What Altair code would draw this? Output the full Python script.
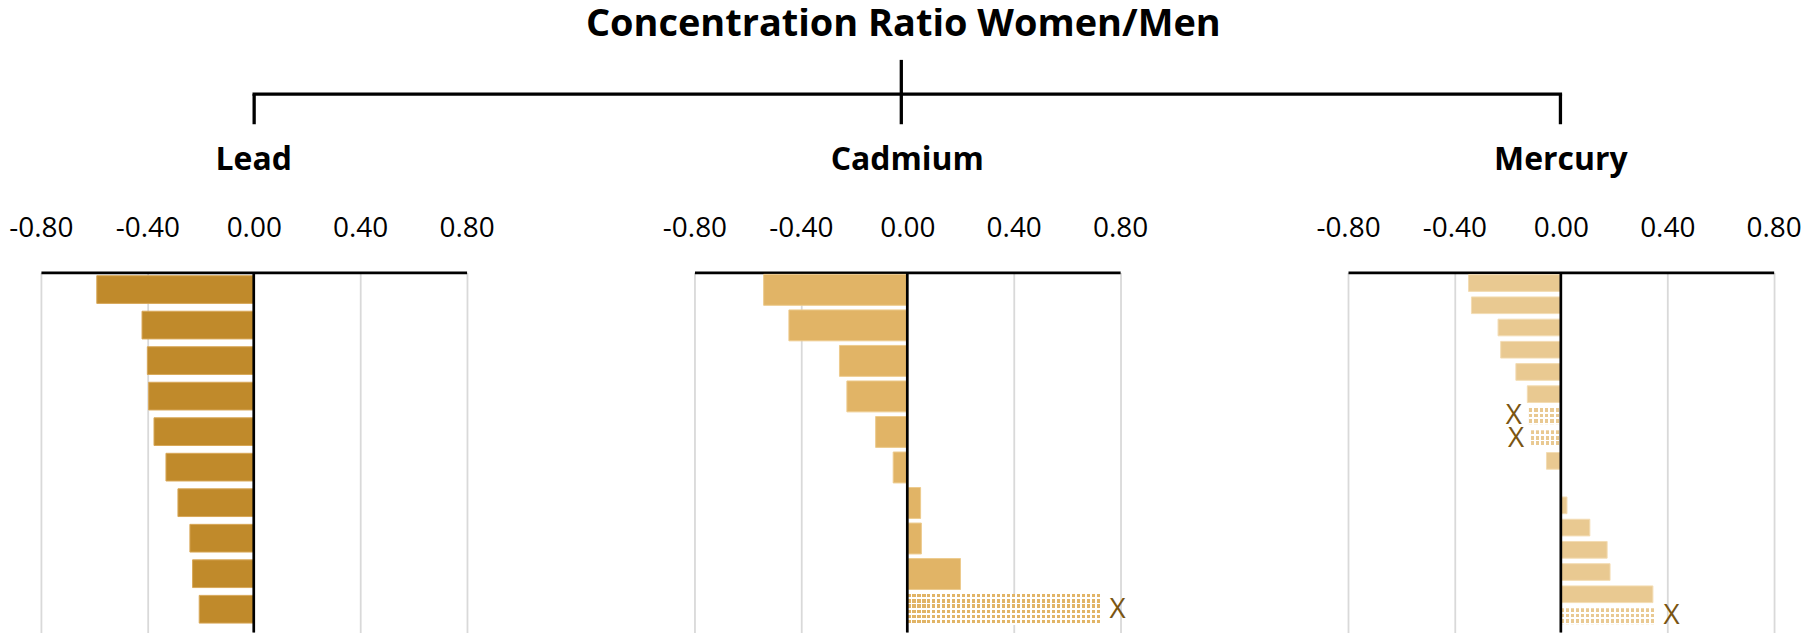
import altair as alt
import pandas as pd

# ---------------- data ----------------
main_title = "Concentration Ratio Women/Men"
panel_names = ["Lead", "Cadmium", "Mercury"]

lead_vals = [-0.59, -0.42, -0.40, -0.395, -0.375, -0.33, -0.285, -0.24, -0.23, -0.205]
lead_flag = [False] * 10

cad_vals = [-0.54, -0.445, -0.255, -0.227, -0.119, -0.053, 0.05, 0.053, 0.20, 0.73]
cad_flag = [False] * 9 + [True]

mer_vals = [-0.347, -0.336, -0.236, -0.226, -0.169, -0.126, -0.12, -0.112, -0.054,
            0.0, 0.023, 0.109, 0.174, 0.185, 0.346, 0.356]
mer_flag = [False] * 6 + [True, True] + [False] * 7 + [True]

tick_values = [-0.8, -0.4, 0.0, 0.4, 0.8]
tick_labels = ["-0.80", "-0.40", "0.00", "0.40", "0.80"]
flag_mark = "X"

# ---------------- layout / style ----------------
W = 426.6
H = 361
GAP = 228
FONT = "Open Sans"
XCOL = "#7A5512"
DOMAIN = [-0.8, 0.8]

label_expr = "''"
for v, t in reversed(list(zip(tick_values, tick_labels))):
    label_expr = f"abs(datum.value - ({v})) < 1e-6 ? '{t}' : ({label_expr})"

axis = alt.Axis(
    orient="top", values=tick_values, labelExpr=label_expr, title=None,
    domain=True, domainColor="black", domainWidth=2.7,
    ticks=False, tickSize=0, grid=True, gridColor="#D9D9D9", gridWidth=1.8,
    labelFont=FONT, labelFontSize=28, labelColor="black", labelPadding=35.7,
    labelBaseline="alphabetic", labelFlush=False, labelOverlap=False,
)


def stripes(on, off, count, duty):
    stops = []
    for k in range(count):
        a = k / count
        b = (k + duty) / count
        c = min((k + 1) / count, 1.0)
        stops += [alt.GradientStop(color=on, offset=a), alt.GradientStop(color=on, offset=b),
                  alt.GradientStop(color=off, offset=b), alt.GradientStop(color=off, offset=c)]
    return stops


def panel(name, vals, flags, fill, stroke, pi, step, top, extra=None):
    n = len(vals)
    df = pd.DataFrame({"i": list(range(n)), "v": vals, "h": flags})
    po = (H / step - (n - pi)) / 2
    align = top / (H - step * (n - pi))
    xs = alt.Scale(domain=DOMAIN)
    ys = alt.Scale(domain=list(range(n)), paddingInner=pi, paddingOuter=po, align=align)
    X = alt.X("v:Q", scale=xs, axis=axis)
    Y = alt.Y("i:O", scale=ys, axis=None)
    base = alt.Chart(df)

    layers = [
        base.transform_filter("!datum.h").mark_bar(
            fill=fill, stroke=stroke, strokeWidth=1
        ).encode(x=X, y=Y)
    ]

    bar_h = step * (1 - pi)
    period = 5.0
    for k, (v, f) in enumerate(zip(vals, flags)):
        if not f:
            continue
        wpx = abs(v) * W / (DOMAIN[1] - DOMAIN[0])
        nx = max(1, round(wpx / period))
        ny = max(1, round(bar_h / period))
        sub = base.transform_filter(f"datum.i == {k}")
        layers.append(sub.mark_bar(
            fill=alt.LinearGradient(gradient="linear", stops=stripes(fill, "#FFFFFF", nx, 0.66),
                                    x1=0, x2=1, y1=0, y2=0),
            strokeWidth=0).encode(x=X, y=Y))
        layers.append(sub.mark_bar(
            fill=alt.LinearGradient(gradient="linear",
                                    stops=stripes("rgba(255,255,255,0)", "#FFFFFF", ny, 0.66),
                                    x1=0, x2=0, y1=0, y2=1),
            strokeWidth=0).encode(x=X, y=Y))

    zero = alt.Chart(pd.DataFrame({"v": [0.0]})).mark_rule(
        color="black", strokeWidth=2.7
    ).encode(x=X)
    layers.append(zero)

    layers.append(base.transform_filter("datum.h && datum.v > 0").mark_text(
        align="left", baseline="middle", dx=8, font=FONT, fontSize=28, color=XCOL
    ).encode(x=X, y=Y, text=alt.value(flag_mark)))
    layers.append(base.transform_filter("datum.h && datum.v < 0").mark_text(
        align="right", baseline="middle", dx=-7, font=FONT, fontSize=28, color=XCOL
    ).encode(x=X, y=Y, text=alt.value(flag_mark)))

    layers.append(alt.Chart(pd.DataFrame({"t": [name]})).mark_text(
        font=FONT, fontSize=32, fontWeight="bold", align="center",
        baseline="alphabetic", color="black"
    ).encode(text="t:N", x=alt.value(W / 2), y=alt.value(-102.5)))

    if extra:
        layers += extra
    return alt.layer(*layers).properties(width=W, height=H)


# bracket + main title live in the middle panel (pixel offsets from its plot origin)
one = pd.DataFrame({"t": [main_title]})
lead0 = -GAP - W / 2
merc0 = W + GAP + W / 2
mid = W / 2 - 6
yh, yb, yt = -178.6, -148.5, -213.0
rule_style = dict(color="black", strokeWidth=3.3)
bracket = [
    alt.Chart(one).mark_rule(strokeCap="square", **rule_style).encode(
        x=alt.value(lead0), x2=alt.value(merc0), y=alt.value(yh)),
    alt.Chart(one).mark_rule(**rule_style).encode(
        x=alt.value(lead0), y=alt.value(yh), y2=alt.value(yb)),
    alt.Chart(one).mark_rule(**rule_style).encode(
        x=alt.value(merc0), y=alt.value(yh), y2=alt.value(yb)),
    alt.Chart(one).mark_rule(**rule_style).encode(
        x=alt.value(mid), y=alt.value(yt), y2=alt.value(yb)),
    alt.Chart(one).mark_text(
        font=FONT, fontSize=38, fontWeight="bold", align="center",
        baseline="alphabetic", color="black"
    ).encode(text="t:N", x=alt.value(W / 2 - 4), y=alt.value(-236.5)),
]

p_lead = panel(panel_names[0], lead_vals, lead_flag, "#C08A2B", "#D8A858", 0.22, 35.6, 3.3)
p_cad = panel(panel_names[1], cad_vals, cad_flag, "#E1B466", "#EDCB8E", 0.13, 35.6, 2.0, bracket)
p_mer = panel(panel_names[2], mer_vals, mer_flag, "#E9C991", "#F3DCB3", 0.25, 22.28, 2.3)

chart = alt.hconcat(p_lead, p_cad, p_mer, spacing=GAP, bounds="flush").properties(
    padding={"left": 0, "top": -2.7, "right": 0, "bottom": 0},
    background="white",
).configure_view(stroke=None)

chart.save("out.html", embed_options={"renderer": "svg", "actions": False})
